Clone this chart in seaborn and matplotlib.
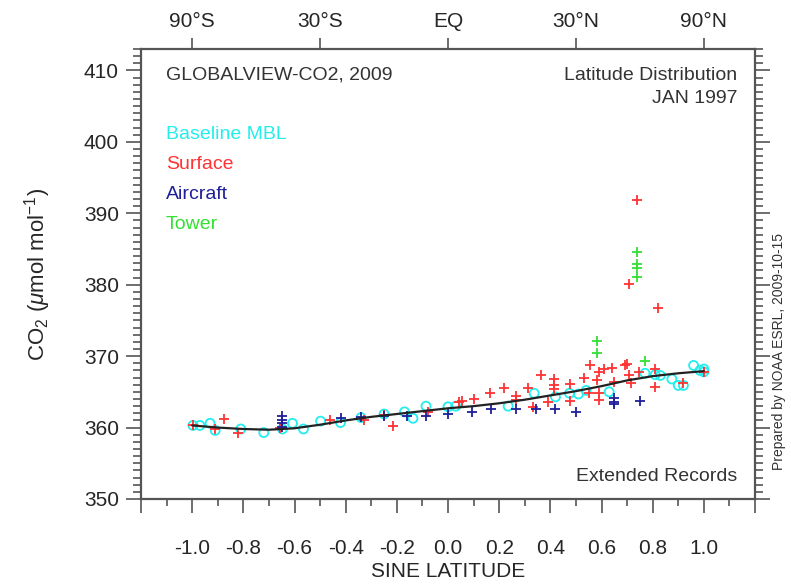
import numpy as np
import pandas as pd
import matplotlib
matplotlib.use("Agg")
import matplotlib.pyplot as plt
from matplotlib.ticker import MultipleLocator
import seaborn as sns

# ---------------- data ----------------
curve_sinlat = [-1.0, -0.9, -0.8, -0.7, -0.6, -0.5, -0.4, -0.3, -0.2, -0.1, 0.0,
                0.1, 0.2, 0.3, 0.4, 0.5, 0.6, 0.7, 0.8, 0.9, 1.0]
curve_co2 = [360.3, 360.0, 359.8, 359.7, 359.9, 360.4, 361.0, 361.5, 361.9, 362.3, 362.7,
             363.0, 363.4, 363.9, 364.5, 365.1, 365.8, 366.6, 367.2, 367.6, 367.9]

mbl_sinlat = [-0.997, -0.97, -0.93, -0.91, -0.81, -0.72, -0.647, -0.608, -0.565, -0.498,
              -0.42, -0.34, -0.25, -0.17, -0.137, -0.086, 0.0, 0.03, 0.235, 0.337, 0.42,
              0.475, 0.51, 0.54, 0.63, 0.77, 0.81, 0.83, 0.875, 0.90, 0.92, 0.96, 0.985,
              1.0, 1.0]
mbl_co2 = [360.3, 360.3, 360.6, 359.6, 359.8, 359.3, 359.8, 360.6, 359.8, 360.9,
           360.7, 361.4, 361.9, 362.2, 361.3, 363.0, 362.9, 363.0, 363.0, 364.8, 364.3,
           364.8, 364.7, 365.2, 365.0, 367.6, 367.4, 367.3, 366.8, 365.9, 365.9, 368.7, 368.0,
           367.8, 368.2]

surface_sinlat = [-0.997, -0.875, -0.91, -0.82, -0.655, -0.46, -0.33, -0.25, -0.216, -0.08,
                  0.043, 0.055, 0.10, 0.165, 0.22, 0.267, 0.267, 0.314, 0.333, 0.365, 0.39,
                  0.416, 0.416, 0.416, 0.475, 0.475, 0.53, 0.55, 0.557, 0.584, 0.59, 0.59,
                  0.59, 0.61, 0.64, 0.647, 0.69, 0.698, 0.706, 0.714, 0.745, 0.81, 0.81,
                  0.918, 1.0, 0.737, 0.706, 0.82]
surface_co2 = [360.3, 361.2, 359.8, 359.3, 359.9, 361.0, 361.0, 361.7, 360.2, 362.2,
               363.6, 363.7, 364.0, 364.8, 365.5, 364.4, 363.8, 365.6, 362.9, 367.3, 363.6,
               366.8, 365.9, 365.4, 366.1, 363.7, 366.9, 364.8, 368.7, 366.6, 367.8, 364.8,
               363.8, 368.2, 368.3, 366.4, 368.7, 368.9, 367.3, 366.2, 367.8, 368.2, 365.7,
               366.2, 367.8, 391.9, 380.1, 376.7]

aircraft_sinlat = [-0.647, -0.647, -0.647, -0.647, -0.42, -0.34, -0.25, -0.16, -0.086, 0.0,
                   0.094, 0.17, 0.267, 0.345, 0.42, 0.50, 0.65, 0.65, 0.65, 0.749]
aircraft_co2 = [361.6, 361.0, 360.6, 360.1, 361.4, 361.5, 361.6, 361.6, 361.6, 361.9,
                362.2, 362.6, 362.6, 362.6, 362.6, 362.2, 364.1, 363.6, 363.3, 363.7]

tower_sinlat = [0.737, 0.737, 0.737, 0.737, 0.584, 0.584, 0.77]
tower_co2 = [384.6, 382.9, 382.3, 381.1, 372.1, 370.4, 369.3]

bottom_tick_values = [-1.2, -1.0, -0.8, -0.6, -0.4, -0.2, 0.0, 0.2, 0.4, 0.6, 0.8, 1.0, 1.2]
bottom_tick_labels = ["", "-1.0", "-0.8", "-0.6", "-0.4", "-0.2", "0.0", "0.2", "0.4",
                      "0.6", "0.8", "1.0", ""]
top_tick_values = [-1.0, -0.5, 0.0, 0.5, 1.0]
top_tick_labels = ["90°S", "30°S", "EQ", "30°N", "90°N"]
y_tick_values = [350, 360, 370, 380, 390, 400, 410]

legend_names = ["Baseline MBL", "Surface", "Aircraft", "Tower"]
series_colors = ["#22eeee", "#ff3333", "#1f1f99", "#33e033"]

# ---------------- style ----------------
sns.set_style("ticks")
plt.rcParams["font.family"] = ["Liberation Sans", "DejaVu Sans"]
plt.rcParams["mathtext.fontset"] = "custom"
plt.rcParams["mathtext.rm"] = "Liberation Sans"
plt.rcParams["mathtext.it"] = "Liberation Sans:italic"

W, H = 791, 586
fig = plt.figure(figsize=(W / 100, H / 100), dpi=100)
left, right, top, bottom = 141, 755, 49, 499
ax = fig.add_axes([left / W, 1 - bottom / H, (right - left) / W, (bottom - top) / H])

axis_col = "#555555"

# ---------------- marks ----------------
sns.scatterplot(x=mbl_sinlat, y=mbl_co2, ax=ax, marker="o", s=42,
                facecolors="none", edgecolor=series_colors[0], linewidth=1.3, zorder=3)
sns.scatterplot(x=surface_sinlat, y=surface_co2, ax=ax, marker="+", s=45,
                color=series_colors[1], linewidth=1.3, zorder=4)
sns.scatterplot(x=aircraft_sinlat, y=aircraft_co2, ax=ax, marker="+", s=45,
                color=series_colors[2], linewidth=1.3, zorder=4)
sns.scatterplot(x=tower_sinlat, y=tower_co2, ax=ax, marker="+", s=45,
                color=series_colors[3], linewidth=1.3, zorder=4)
sns.lineplot(x=curve_sinlat, y=curve_co2, ax=ax, color="#222222", linewidth=1.6,
             zorder=5)

# ---------------- axes ----------------
ax.set_xlim(-1.2, 1.2)
ax.set_ylim(350, 413)
ax.set_xticks(bottom_tick_values, labels=bottom_tick_labels)
ax.xaxis.set_minor_locator(MultipleLocator(0.1))
ax.set_yticks(y_tick_values)
ax.yaxis.set_minor_locator(MultipleLocator(1))

for s in ax.spines.values():
    s.set_color(axis_col)
    s.set_linewidth(1.6)

ax.tick_params(axis="x", which="both", direction="out", top=False, bottom=True,
               color=axis_col, width=1.2)
ax.tick_params(axis="x", which="major", length=10, pad=19, labelsize=15)
ax.tick_params(axis="x", which="minor", length=5)
ax.tick_params(axis="y", which="both", direction="out", left=True, right=True,
               color=axis_col, width=1.2)
ax.tick_params(axis="y", which="major", length=11, pad=5, labelsize=15)
ax.tick_params(axis="y", which="minor", length=6)

secax = ax.secondary_xaxis("top")
secax.set_xticks(top_tick_values, labels=top_tick_labels)
secax.tick_params(direction="out", length=8, width=1.2, color=axis_col, pad=5,
                  labelsize=15)
secax.spines["top"].set_visible(False)

ax.set_xlabel("SINE LATITUDE", fontsize=15, labelpad=3)
ax.set_ylabel(r"CO$_2$ ($\mu$mol mol$^{-1}$)", fontsize=16, labelpad=22)

# ---------------- annotations ----------------
def ftxt(x, y, s, **kw):
    fig.text(x / W, 1 - y / H, s, **kw)

ftxt(166, 80, "GLOBALVIEW-CO2, 2009", fontsize=14, color="#333333", va="baseline")
ftxt(737, 80, "Latitude Distribution", fontsize=14, color="#333333", va="baseline",
     ha="right")
ftxt(737, 103, "JAN 1997", fontsize=14, color="#333333", va="baseline", ha="right")
ftxt(737, 481, "Extended Records", fontsize=14, color="#333333", va="baseline",
     ha="right")
legend_baselines = [139, 169, 199, 229]
for name, col, yb in zip(legend_names, series_colors, legend_baselines):
    ftxt(166, yb, name, fontsize=14, color=col, va="baseline")

ftxt(779, 352, "Prepared by NOAA ESRL, 2009-10-15", fontsize=10, color="#333333",
     rotation=90, ha="center", va="center")

fig.savefig("out.png", dpi=100)
